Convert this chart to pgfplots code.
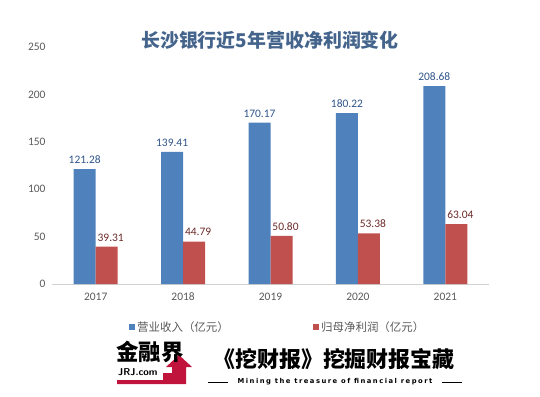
\documentclass[border=0pt]{standalone}
\usepackage{pgfplots}
\pgfplotsset{compat=1.18}
\usepackage{fontspec}
\setmainfont{Carlito}
\newfontfamily\cjk{Noto Sans CJK SC}
\newfontfamily\slog{DejaVu Sans}[LetterSpace=22]
\definecolor{barblue}{HTML}{4F81BD}
\definecolor{barred}{HTML}{C0504D}
\definecolor{lblblue}{HTML}{2E548A}
\definecolor{lblred}{HTML}{6B2A28}
\definecolor{titlec}{RGB}{68,100,140}
\definecolor{txtgray}{HTML}{595959}
\definecolor{logored}{HTML}{C0143C}
\begin{document}
\begin{tikzpicture}[x=1bp,y=1bp]
\path[use as bounding box] (0,0) rectangle (540,396);
\begin{axis}[
  at={(52bp,112bp)}, anchor=south west,
  scale only axis, width=437bp, height=237bp,
  ymin=0, ymax=250, xmin=-0.5, xmax=4.5,
  ytick={0,50,...,250},
  xtick={0,1,2,3,4}, xticklabels={2017,2018,2019,2020,2021},
  axis x line*=bottom, axis y line*=left,
  y axis line style={draw=none},
  x axis line style={draw=black!18, -},
  major tick style={draw=none},
  /pgf/number format/assume math mode=true,
  ticklabel style={font=\fontsize{11.5}{12}\selectfont, text=txtgray},
  yticklabel style={xshift=-3bp},
  xticklabel style={yshift=-1bp},
  ybar=0pt, bar width=22bp,
  nodes near coords,
  nodes near coords style={font=\fontsize{11.5}{12}\selectfont,
    /pgf/number format/fixed, /pgf/number format/fixed zerofill,
    /pgf/number format/precision=2, yshift=2bp},
]
\addplot[fill=barblue, draw=none, every node near coord/.append style={text=lblblue}]
  coordinates {(0,121.28) (1,139.41) (2,170.17) (3,180.22) (4,208.68)};
\addplot[fill=barred, draw=none, every node near coord/.append style={text=lblred, xshift=4bp}]
  coordinates {(0,39.31) (1,44.79) (2,50.80) (3,53.38) (4,63.04)};
\end{axis}
% title
\node[text=titlec, font=\cjk\bfseries\fontsize{19}{20}\selectfont] at (270,356) {长沙银行近5年营收净利润变化};
% legend
\fill[barblue] (129,66) rectangle (135,72);
\node[anchor=west, text=txtgray, font=\cjk\fontsize{11.5}{12}\selectfont, inner sep=0] at (137,69) {营业收入（亿元）};
\fill[barred] (313,66) rectangle (319,72);
\node[anchor=west, text=txtgray, font=\cjk\fontsize{11.5}{12}\selectfont, inner sep=0] at (321,69) {归母净利润（亿元）};
% watermark logo
\fill[logored] (117,12) -- (186,12) -- (186,29) -- (192,29) -- (179,41) -- (166,29) -- (172,29) -- (172,23) -- (163,23) -- (163,16) -- (117,16) -- cycle;
\node[anchor=west, font=\cjk\bfseries\fontsize{22.5}{22}\selectfont, inner sep=0] at (116,44) {金融界};
\node[anchor=west, font=\sffamily\bfseries\fontsize{10}{10}\selectfont, inner sep=0] at (118,23.5) {JRJ.com};
% slogan
\node[font=\cjk\bfseries\fontsize{22}{22}\selectfont, inner sep=0] at (334,37) {《挖财报》挖掘财报宝藏};
\draw[line width=0.8bp] (208,14) -- (228,14);
\draw[line width=0.8bp] (442,14) -- (462,14);
\node[font=\slog\bfseries\fontsize{6.8}{7}\selectfont, inner sep=0] at (335,14) {Mining the treasure of financial report};
\end{tikzpicture}
\end{document}
